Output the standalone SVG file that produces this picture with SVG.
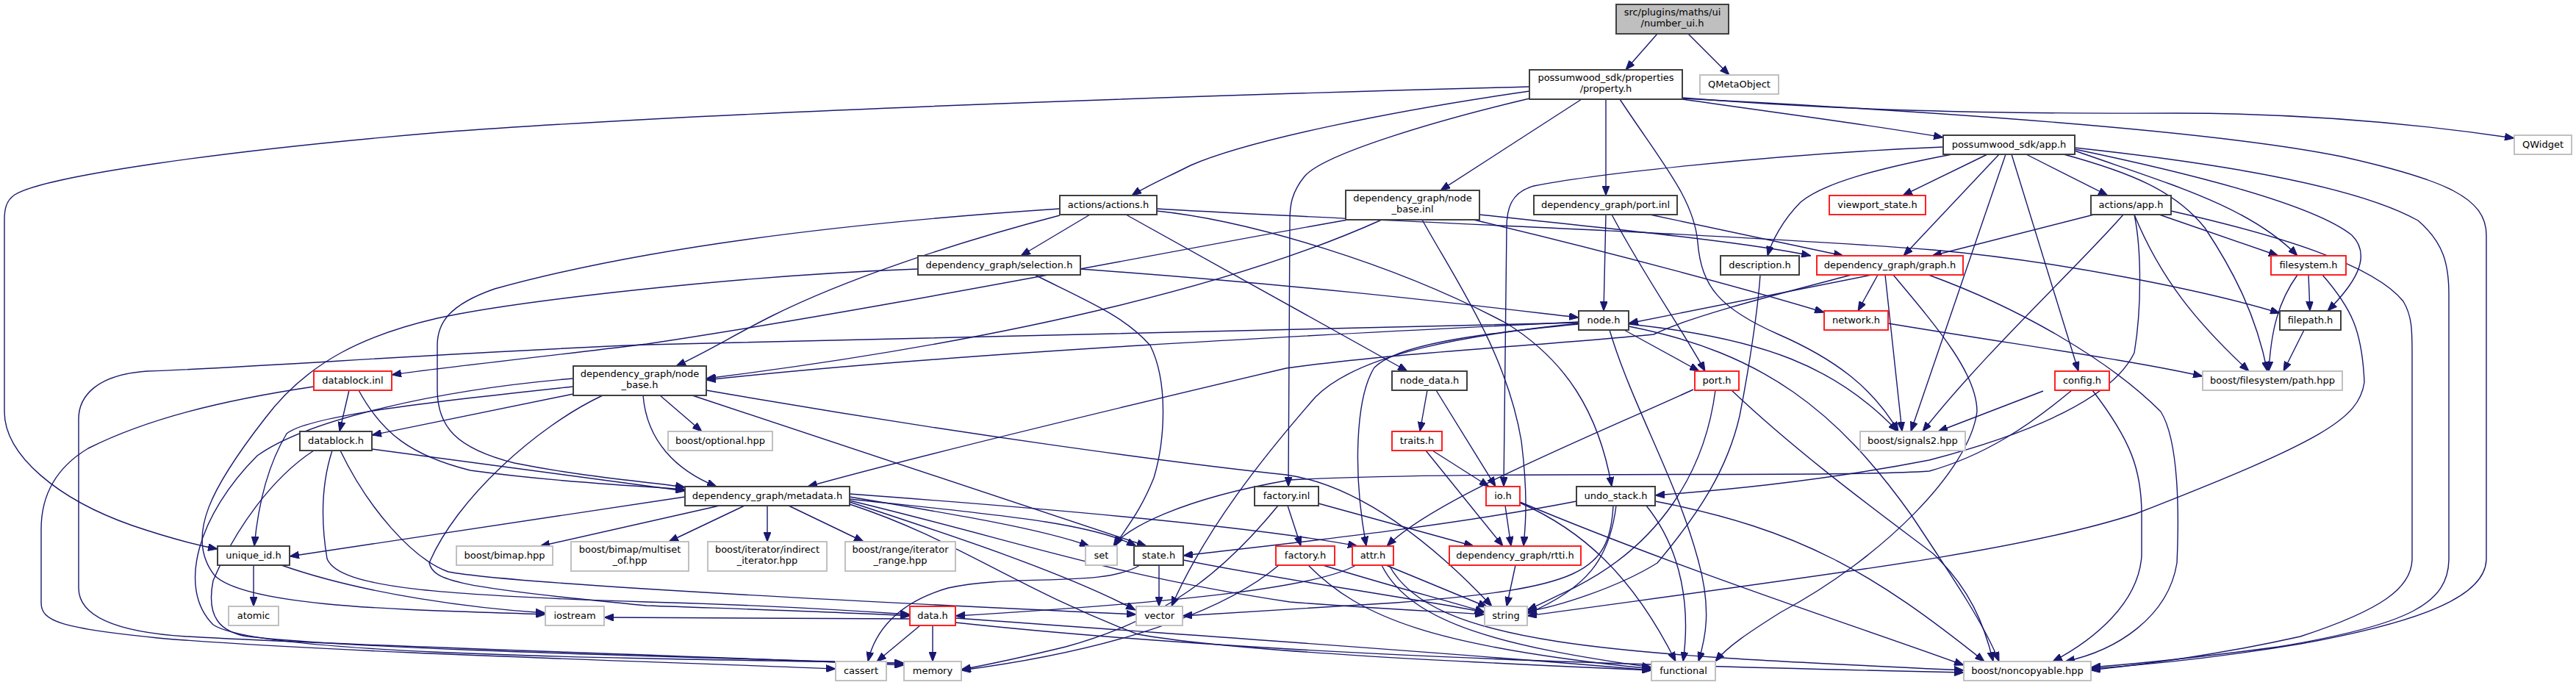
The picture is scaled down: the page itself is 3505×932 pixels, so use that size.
<svg xmlns="http://www.w3.org/2000/svg" width="3505" height="932" viewBox="0 0 3505 932">
<style>
.n rect{fill:#fff;stroke:#404040;stroke-width:2}
.n.r rect{stroke:#ff2020;stroke-width:2}
.n.x rect{stroke:#c0c0c0;stroke-width:2}
.n.root rect{fill:#bfbfbf}
.n text{font-family:"DejaVu Sans","Liberation Sans",sans-serif;font-size:13px;fill:#000;text-anchor:middle}
.e path{fill:none;stroke:#191970;stroke-width:1.4;marker-end:url(#a)}
</style>
<defs>
<marker id="a" markerUnits="userSpaceOnUse" markerWidth="13" markerHeight="10" refX="13" refY="5" orient="auto">
<path d="M0,0 L13,5 L0,10 z" fill="#191970" stroke="#191970" stroke-width="1"/>
</marker>
</defs>
<rect width="3505" height="932" fill="#fff"/>
<g id="edges" class="e">
<path d="M2255,46 L2212,95"/>
<path d="M2297,46 L2353,102"/>
<path d="M2081,118 C1700,128 1000,150 600,180 C300,205 60,240 20,265 C8,273 6,285 6,300 L6,560 C6,620 80,680 180,715 C230,732 270,742 296,747"/>
<path d="M2081,124 C1900,150 1700,190 1620,225 C1580,245 1555,256 1540,266"/>
<path d="M2152,135 L1960,259"/>
<path d="M2185,135 L2185,266"/>
<path d="M2081,134 C1950,165 1800,210 1775,240 C1757,262 1755,280 1755,300 L1753,662"/>
<path d="M2204,135 C2260,220 2305,270 2310,330 C2315,390 2340,420 2420,455 C2500,490 2550,530 2583,587"/>
<path d="M2289,135 C2450,158 2560,172 2644,187"/>
<path d="M2289,133 C2500,150 2700,155 2962,154 C3150,154 3300,170 3421,188"/>
<path d="M2289,134 C2600,150 3000,175 3186,213 C3330,245 3383,270 3383,320 L3383,760 C3383,810 3300,845 3130,876 C3000,898 2900,906 2845,910"/>
<path d="M2644,200 C2400,210 2150,240 2087,253 C2055,262 2050,285 2050,310 L2046,662"/>
<path d="M2656,210 C2550,230 2480,250 2450,275 C2425,300 2410,330 2405,348"/>
<path d="M2704,210 L2589,266"/>
<path d="M2720,210 L2590,348"/>
<path d="M2729,210 L2600,587"/>
<path d="M2737,210 L2828,505"/>
<path d="M2757,210 L2868,266"/>
<path d="M2823,205 C2950,250 3060,280 3126,348"/>
<path d="M2823,203 C3000,240 3150,280 3200,320 C3230,350 3200,390 3167,423"/>
<path d="M2823,201 C3000,220 3200,250 3290,300 C3325,330 3332,360 3332,400 L3332,760 C3332,820 3280,850 3100,880 C2950,900 2880,905 2845,908"/>
<path d="M2808,210 C2900,235 2960,260 3000,310 C3040,370 3070,430 3085,505"/>
<path d="M1442,284 C1200,300 900,330 673,393 C610,415 595,440 595,470 L595,530 C595,580 620,610 700,630 C800,650 880,655 932,663"/>
<path d="M1442,293 C1300,330 1150,380 1050,430 C1000,455 960,480 920,498"/>
<path d="M1483,292 L1389,348"/>
<path d="M1532,292 L1915,505"/>
<path d="M1574,284 C1800,298 2300,315 2630,340 C2800,355 3000,395 3102,426"/>
<path d="M1574,287 C1700,300 1900,360 2050,440 C2130,490 2175,560 2193,662"/>
<path d="M2013,292 C2200,312 2380,330 2464,348"/>
<path d="M2005,299 C2200,345 2400,400 2482,425"/>
<path d="M1935,299 C1980,380 2050,480 2070,600 C2080,680 2075,720 2073,743"/>
<path d="M1880,299 C1700,380 1400,460 961,515"/>
<path d="M1834,299 C1600,340 1200,420 880,468 C700,490 600,500 533,510"/>
<path d="M2185,292 L2182,423"/>
<path d="M2245,292 L2508,348"/>
<path d="M2193,292 C2240,380 2290,450 2320,505"/>
<path d="M2849,292 L2629,348"/>
<path d="M2889,292 C2830,360 2700,480 2616,587"/>
<path d="M2904,292 C2914,340 2914,420 2904,480 C2880,530 2800,580 2625,626 C2450,660 2300,670 2252,674"/>
<path d="M2904,292 C2940,380 2990,440 3060,505"/>
<path d="M2938,292 L3100,348"/>
<path d="M2954,287 C3100,320 3230,360 3270,410 C3282,430 3282,450 3282,480 L3282,760 C3282,800 3240,830 3130,866 C3000,895 2900,905 2845,912"/>
<path d="M3141,374 L3143,423"/>
<path d="M3126,374 C3100,410 3090,450 3087,505"/>
<path d="M3160,374 C3200,420 3214,450 3217,520 C3210,570 3160,600 2906,699 C2750,750 2500,780 2078,838"/>
<path d="M3135,449 L3107,505"/>
<path d="M2569,440 C2750,470 2900,490 2997,512"/>
<path d="M2395,374 C2392,420 2380,500 2367,566 C2350,640 2311,699 2255,766 C2200,800 2120,825 2078,832"/>
<path d="M1470,366 C1800,390 2000,415 2148,432"/>
<path d="M1249,366 C1000,375 700,410 595,433 C500,455 420,490 360,570 C290,660 250,730 292,783 C340,830 600,830 742,836"/>
<path d="M1408,374 C1480,410 1530,430 1565,470 C1590,520 1585,600 1570,650 C1550,700 1530,720 1517,743"/>
<path d="M2547,374 L2216,440"/>
<path d="M2555,374 L2528,423"/>
<path d="M2565,374 L2588,587"/>
<path d="M2624,374 C2750,420 2870,490 2940,560 C2965,600 2965,700 2962,766 C2950,840 2880,885 2810,900"/>
<path d="M2576,374 C2640,450 2690,510 2690,560 C2680,640 2560,760 2423,833 C2380,860 2350,880 2334,900"/>
<path d="M2519,374 C2420,400 2300,430 2250,455 C2100,470 1900,480 1750,501 C1500,560 1250,620 1099,662"/>
<path d="M2210,449 L2312,505"/>
<path d="M2216,441 C2400,460 2500,500 2582,587"/>
<path d="M2190,449 C2220,550 2280,650 2310,760 C2330,830 2320,870 2311,900"/>
<path d="M2148,441 C2000,455 1900,470 1870,500 C1845,540 1840,640 1859,743"/>
<path d="M2148,440 C2000,455 1850,480 1790,540 C1720,620 1640,720 1594,825"/>
<path d="M2148,438 C1800,455 1300,480 961,517"/>
<path d="M2216,444 C2400,480 2500,560 2600,700 C2660,790 2700,850 2720,900"/>
<path d="M2148,439 C1700,450 1200,460 880,469 C600,480 350,500 200,505 C130,510 107,540 107,570 L107,800 C107,840 160,860 253,866 C500,880 900,890 1230,905"/>
<path d="M475,531 L462,587"/>
<path d="M488,531 C520,590 560,620 640,640 C750,655 850,660 932,666"/>
<path d="M427,526 C300,545 200,570 120,610 C70,640 56,680 56,720 L56,820 C56,845 80,855 225,869 C500,890 900,900 1137,910"/>
<path d="M506,611 L932,668"/>
<path d="M452,613 C440,650 435,700 445,760 C460,800 600,810 880,819 C1000,822 1150,830 1238,836"/>
<path d="M463,613 C500,690 560,760 610,778 C700,795 1200,820 1546,836"/>
<path d="M427,613 C370,650 320,720 290,790 C280,840 300,860 337,866 C500,885 1000,895 1230,903"/>
<path d="M780,526 C600,545 420,565 390,590 C360,640 350,700 346,743"/>
<path d="M780,536 L506,592"/>
<path d="M875,538 C880,600 920,640 975,662"/>
<path d="M898,538 L955,587"/>
<path d="M942,538 L1560,743"/>
<path d="M961,531 C1300,590 1600,630 1750,646 C1850,660 1950,740 2030,825"/>
<path d="M780,515 C600,530 420,570 350,620 C270,700 240,800 290,850 C350,890 800,895 1230,902"/>
<path d="M820,538 C730,580 620,680 584,766 C590,790 617,799 880,824 C1050,830 1150,833 1238,838"/>
<path d="M932,676 L394,757"/>
<path d="M979,688 L735,743"/>
<path d="M1013,688 L910,737"/>
<path d="M1044,688 L1044,737"/>
<path d="M1073,688 L1175,737"/>
<path d="M1156,676 C1300,700 1420,720 1482,743"/>
<path d="M1156,679 C1350,700 1480,710 1546,743"/>
<path d="M1156,672 C1400,690 1700,715 1847,743"/>
<path d="M1156,683 C1300,730 1450,780 1545,830"/>
<path d="M1156,681 C1400,740 1500,780 1755,819 C1900,830 1980,833 2020,836"/>
<path d="M1156,686 C1300,733 1380,799 1548,863 C1700,890 2100,905 2247,912"/>
<path d="M1752,688 L1770,743"/>
<path d="M1794,685 L2005,743"/>
<path d="M1739,688 C1680,760 1600,840 1450,880 C1380,897 1340,905 1308,911"/>
<path d="M1800,769 C1900,800 1980,820 2020,833"/>
<path d="M1780,769 C1850,840 1950,880 2247,910"/>
<path d="M1740,769 C1680,820 1550,880 1308,912"/>
<path d="M1845,769 C1790,800 1600,820 1300,838"/>
<path d="M1886,769 L2024,826"/>
<path d="M1880,769 C1920,850 2050,880 2247,908"/>
<path d="M1890,769 C1950,880 2200,890 2672,912"/>
<path d="M2048,688 L2056,743"/>
<path d="M2068,684 C2150,720 2220,780 2280,900"/>
<path d="M2068,683 C2300,780 2550,860 2672,905"/>
<path d="M1949,613 L2026,662"/>
<path d="M1940,613 L2045,743"/>
<path d="M1942,531 L1932,587"/>
<path d="M1954,531 L2035,662"/>
<path d="M2145,682 C1950,720 1700,745 1610,756"/>
<path d="M2199,688 C2190,760 2160,800 2078,835"/>
<path d="M2240,688 C2290,750 2300,830 2290,900"/>
<path d="M2252,682 C2450,720 2550,780 2700,900"/>
<path d="M2195,688 C2190,780 2150,800 1900,820 C1750,830 1650,835 1609,838"/>
<path d="M2062,769 L2050,825"/>
<path d="M1269,851 L1269,900"/>
<path d="M1252,851 L1193,900"/>
<path d="M1300,841 C1700,870 2000,890 2247,912"/>
<path d="M1300,847 C1700,890 2200,905 2672,915"/>
<path d="M1238,842 L822,840"/>
<path d="M1577,769 L1577,825"/>
<path d="M1551,769 C1500,800 1380,780 1290,800 C1220,820 1190,860 1181,900"/>
<path d="M1610,762 C1750,790 1900,810 2020,833"/>
<path d="M345,769 L345,825"/>
<path d="M383,769 C500,810 650,828 742,834"/>
<path d="M2304,530 C2150,600 1950,680 1887,743"/>
<path d="M2334,531 C2320,640 2260,740 2143,799 C2110,815 2090,825 2078,830"/>
<path d="M2356,531 C2450,620 2560,700 2630,753 C2680,800 2700,850 2712,900"/>
<path d="M2819,531 C2760,580 2700,620 2625,641 C2500,650 2000,640 1755,653 C1605,679 1530,720 1515,743"/>
<path d="M2780,532 L2637,587"/>
<path d="M2847,531 C2900,600 2914,640 2914,700 L2914,756 C2910,820 2850,870 2793,900"/>
</g>
<g id="n1" class="n root"><rect x="2199" y="6" width="153" height="40"/><text x="2275.5" y="21">src/plugins/maths/ui</text><text x="2275.5" y="36">/number_ui.h</text></g>
<g id="n2" class="n"><rect x="2081" y="95" width="208" height="40"/><text x="2185" y="110">possumwood_sdk/properties</text><text x="2185" y="125">/property.h</text></g>
<g id="n3" class="n x"><rect x="2313" y="102" width="107" height="26"/><text x="2366.5" y="119">QMetaObject</text></g>
<g id="n4" class="n"><rect x="296" y="743" width="98" height="26"/><text x="345" y="760">unique_id.h</text></g>
<g id="n5" class="n"><rect x="1442" y="266" width="132" height="26"/><text x="1508" y="283">actions/actions.h</text></g>
<g id="n6" class="n"><rect x="1831" y="259" width="182" height="40"/><text x="1922" y="274">dependency_graph/node</text><text x="1922" y="289">_base.inl</text></g>
<g id="n7" class="n"><rect x="2087" y="266" width="195" height="26"/><text x="2184.5" y="283">dependency_graph/port.inl</text></g>
<g id="n8" class="n"><rect x="1707" y="662" width="87" height="26"/><text x="1750.5" y="679">factory.inl</text></g>
<g id="n9" class="n"><rect x="2644" y="184" width="179" height="26"/><text x="2733.5" y="201">possumwood_sdk/app.h</text></g>
<g id="n10" class="n x"><rect x="3421" y="184" width="78" height="26"/><text x="3460" y="201">QWidget</text></g>
<g id="n11" class="n x"><rect x="2531" y="587" width="143" height="26"/><text x="2602.5" y="604">boost/signals2.hpp</text></g>
<g id="n12" class="n x"><rect x="2672" y="900" width="173" height="26"/><text x="2758.5" y="917">boost/noncopyable.hpp</text></g>
<g id="n13" class="n"><rect x="1249" y="348" width="221" height="26"/><text x="1359.5" y="365">dependency_graph/selection.h</text></g>
<g id="n14" class="n"><rect x="780" y="498" width="181" height="40"/><text x="870.5" y="513">dependency_graph/node</text><text x="870.5" y="528">_base.h</text></g>
<g id="n15" class="n"><rect x="932" y="662" width="224" height="26"/><text x="1044" y="679">dependency_graph/metadata.h</text></g>
<g id="n16" class="n"><rect x="1894" y="505" width="102" height="26"/><text x="1945" y="522">node_data.h</text></g>
<g id="n17" class="n"><rect x="2145" y="662" width="107" height="26"/><text x="2198.5" y="679">undo_stack.h</text></g>
<g id="n18" class="n r"><rect x="2472" y="348" width="199" height="26"/><text x="2571.5" y="365">dependency_graph/graph.h</text></g>
<g id="n19" class="n"><rect x="2148" y="423" width="68" height="26"/><text x="2182" y="440">node.h</text></g>
<g id="n20" class="n r"><rect x="427" y="505" width="106" height="26"/><text x="480" y="522">datablock.inl</text></g>
<g id="n21" class="n r"><rect x="2482" y="423" width="87" height="26"/><text x="2525.5" y="440">network.h</text></g>
<g id="n22" class="n r"><rect x="1972" y="743" width="179" height="26"/><text x="2061.5" y="760">dependency_graph/rtti.h</text></g>
<g id="n23" class="n r"><rect x="2306" y="505" width="60" height="26"/><text x="2336" y="522">port.h</text></g>
<g id="n24" class="n"><rect x="2341" y="348" width="107" height="26"/><text x="2394.5" y="365">description.h</text></g>
<g id="n25" class="n r"><rect x="2489" y="266" width="131" height="26"/><text x="2554.5" y="283">viewport_state.h</text></g>
<g id="n26" class="n r"><rect x="2022" y="662" width="46" height="26"/><text x="2045" y="679">io.h</text></g>
<g id="n27" class="n r"><rect x="2796" y="505" width="74" height="26"/><text x="2833" y="522">config.h</text></g>
<g id="n28" class="n"><rect x="2845" y="266" width="109" height="26"/><text x="2899.5" y="283">actions/app.h</text></g>
<g id="n29" class="n r"><rect x="3090" y="348" width="102" height="26"/><text x="3141" y="365">filesystem.h</text></g>
<g id="n30" class="n"><rect x="3102" y="423" width="83" height="26"/><text x="3143.5" y="440">filepath.h</text></g>
<g id="n31" class="n x"><rect x="2997" y="505" width="190" height="26"/><text x="3092" y="522">boost/filesystem/path.hpp</text></g>
<g id="n32" class="n"><rect x="408" y="587" width="98" height="26"/><text x="457" y="604">datablock.h</text></g>
<g id="n33" class="n x"><rect x="909" y="587" width="142" height="26"/><text x="980" y="604">boost/optional.hpp</text></g>
<g id="n34" class="n r"><rect x="1894" y="587" width="68" height="26"/><text x="1928" y="604">traits.h</text></g>
<g id="n35" class="n x"><rect x="621" y="743" width="131" height="26"/><text x="686.5" y="760">boost/bimap.hpp</text></g>
<g id="n36" class="n x"><rect x="777" y="737" width="160" height="40"/><text x="857" y="752">boost/bimap/multiset</text><text x="857" y="767">_of.hpp</text></g>
<g id="n37" class="n x"><rect x="963" y="737" width="162" height="40"/><text x="1044" y="752">boost/iterator/indirect</text><text x="1044" y="767">_iterator.hpp</text></g>
<g id="n38" class="n x"><rect x="1150" y="737" width="150" height="40"/><text x="1225" y="752">boost/range/iterator</text><text x="1225" y="767">_range.hpp</text></g>
<g id="n39" class="n x"><rect x="1477" y="743" width="43" height="26"/><text x="1498.5" y="760">set</text></g>
<g id="n40" class="n"><rect x="1543" y="743" width="67" height="26"/><text x="1576.5" y="760">state.h</text></g>
<g id="n41" class="n r"><rect x="1736" y="743" width="80" height="26"/><text x="1776" y="760">factory.h</text></g>
<g id="n42" class="n r"><rect x="1840" y="743" width="56" height="26"/><text x="1868" y="760">attr.h</text></g>
<g id="n43" class="n x"><rect x="311" y="825" width="68" height="26"/><text x="345" y="842">atomic</text></g>
<g id="n44" class="n x"><rect x="742" y="825" width="80" height="26"/><text x="782" y="842">iostream</text></g>
<g id="n45" class="n r"><rect x="1238" y="825" width="62" height="26"/><text x="1269" y="842">data.h</text></g>
<g id="n46" class="n x"><rect x="1546" y="825" width="63" height="26"/><text x="1577.5" y="842">vector</text></g>
<g id="n47" class="n x"><rect x="2020" y="825" width="58" height="26"/><text x="2049" y="842">string</text></g>
<g id="n48" class="n x"><rect x="1137" y="900" width="69" height="26"/><text x="1171.5" y="917">cassert</text></g>
<g id="n49" class="n x"><rect x="1230" y="900" width="78" height="26"/><text x="1269" y="917">memory</text></g>
<g id="n50" class="n x"><rect x="2247" y="900" width="87" height="26"/><text x="2290.5" y="917">functional</text></g>
</svg>
